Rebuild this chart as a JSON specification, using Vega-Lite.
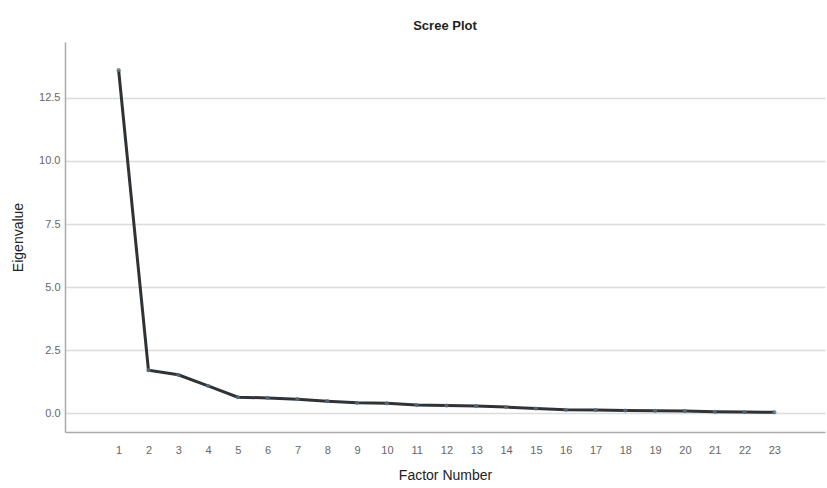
{
  "$schema": "https://vega.github.io/schema/vega-lite/v6.json",
  "autosize": {"type": "none"},
  "width": 760,
  "height": 390,
  "padding": {"left": 65, "top": 42, "right": 2, "bottom": 56},
  "background": "white",
  "title": {"text": "Scree Plot", "fontSize": 13, "fontWeight": "bold", "font": "Liberation Sans", "color": "#222", "offset": 9, "anchor": "middle"},
  "config": {
    "view": {"stroke": null},
    "axis": {"labelFont": "Liberation Sans", "titleFont": "Liberation Sans", "labelColor": "#666", "titleColor": "#222", "labelFontSize": 11, "titleFontSize": 14, "titleFontWeight": "normal", "domainColor": "#aaa", "domainWidth": 1.5, "ticks": false}
  },
  "data": {"values": [
    {"factor": 1, "eigenvalue": 13.6},
    {"factor": 2, "eigenvalue": 1.7},
    {"factor": 3, "eigenvalue": 1.52},
    {"factor": 4, "eigenvalue": 1.08},
    {"factor": 5, "eigenvalue": 0.63},
    {"factor": 6, "eigenvalue": 0.6},
    {"factor": 7, "eigenvalue": 0.55},
    {"factor": 8, "eigenvalue": 0.47},
    {"factor": 9, "eigenvalue": 0.41},
    {"factor": 10, "eigenvalue": 0.39},
    {"factor": 11, "eigenvalue": 0.32},
    {"factor": 12, "eigenvalue": 0.3},
    {"factor": 13, "eigenvalue": 0.28},
    {"factor": 14, "eigenvalue": 0.24},
    {"factor": 15, "eigenvalue": 0.18},
    {"factor": 16, "eigenvalue": 0.13},
    {"factor": 17, "eigenvalue": 0.12},
    {"factor": 18, "eigenvalue": 0.1},
    {"factor": 19, "eigenvalue": 0.09},
    {"factor": 20, "eigenvalue": 0.08},
    {"factor": 21, "eigenvalue": 0.05},
    {"factor": 22, "eigenvalue": 0.04},
    {"factor": 23, "eigenvalue": 0.03}
  ]},
  "encoding": {
    "x": {"field": "factor", "type": "quantitative", "title": "Factor Number",
      "scale": {"domain": [-0.8, 24.7], "nice": false, "zero": false},
      "axis": {"values": [1,2,3,4,5,6,7,8,9,10,11,12,13,14,15,16,17,18,19,20,21,22,23], "grid": false, "labelPadding": 12, "titlePadding": 13, "labelFlush": false}},
    "y": {"field": "eigenvalue", "type": "quantitative", "title": "Eigenvalue",
      "scale": {"domain": [-0.75, 14.72], "nice": false, "zero": false},
      "axis": {"values": [0, 2.5, 5, 7.5, 10, 12.5], "format": ".1f", "grid": true, "gridColor": "#dcdcdc", "gridWidth": 1.5, "labelPadding": 5, "titlePadding": 13}}
  },
  "layer": [
    {"mark": {"type": "line", "color": "#2f3336", "strokeWidth": 3}},
    {"mark": {"type": "point", "filled": true, "color": "#5a7080", "size": 18, "opacity": 0.8}}
  ]
}
